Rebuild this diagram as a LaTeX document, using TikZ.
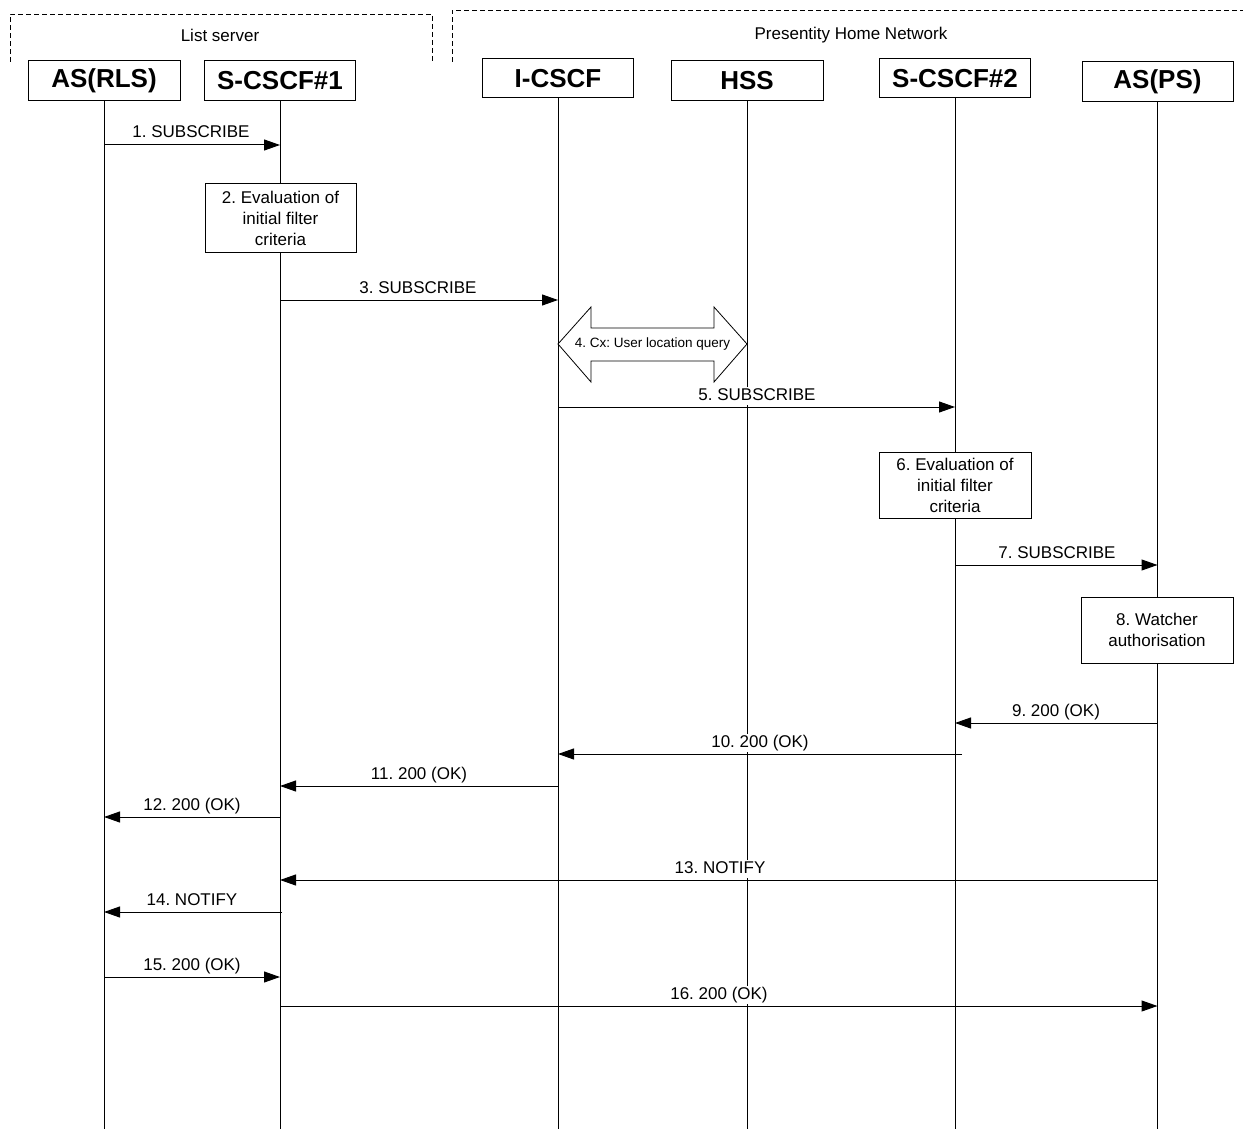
\documentclass[tikz,border=0pt]{standalone}
\usepackage{fontspec}
\setmainfont{Liberation Sans}
\usetikzlibrary{arrows.meta,calc}
\begin{document}
\frenchspacing
\begin{tikzpicture}[x=1pt,y=-1pt,
  every node/.style={font=\fontsize{17}{21}\selectfont, inner sep=0pt},
  hdr/.style={draw, line width=1pt, minimum width=152pt, minimum height=40pt, font=\fontsize{26}{30}\selectfont\bfseries, fill=white},
  proc/.style={draw, line width=1pt, minimum width=152pt, minimum height=67pt, align=center, fill=white},
  lbl/.style={fill=white, inner sep=1pt, anchor=base, text height=12.5pt, text depth=3.5pt},
  msg/.style={line width=1pt, -{Triangle[length=16pt,width=11pt]}},
  life/.style={line width=1pt},
  grp/.style={dash pattern=on 5pt off 3pt, line width=0.8pt},
  cx/.style={draw, line width=0.8pt, fill=white},
]
\useasboundingbox (0,0) rectangle (1243,1129);
% groups
\draw[grp] (10,62) -- (10,14) -- (432,14) -- (432,62);
\draw[grp] (452,62) -- (452,10) -- (1243,10);
\node (lsname) at (220,35) {List server};
\node (phn) at (851,35) {Presentity Home Network};
% headers
\node[hdr] (rls) at (104,81) {AS(RLS)};
\node[hdr, minimum width=151pt] (s1) at (280,81) {S-CSCF\#1};
\node[hdr, minimum width=151pt, minimum height=39pt] (ic) at (558,78.5) {I-CSCF};
\node[hdr] (hss) at (747,81) {HSS};
\node[hdr, minimum width=151pt, minimum height=39pt] (s2) at (955,78.5) {S-CSCF\#2};
\node[hdr, minimum width=151pt] (ps) at (1157.5,82) {AS(PS)};
% lifelines
\coordinate (bot) at (0,1129);
\foreach \n in {rls,s1,ic,hss,s2,ps}{\draw[life] (\n.south) -- (\n.south |- bot);}
% process boxes
\node[proc, minimum width=151pt, minimum height=68pt] (p2) at (280.5,218) {2. Evaluation of\\initial filter\\criteria};
\node[proc, minimum height=66pt] (p6) at (955,485) {6. Evaluation of\\initial filter\\criteria};
\node[proc, minimum height=66pt] (p8) at (1157,630) {8. Watcher\\authorisation};
% Cx double arrow
\coordinate (cxl) at (ic |- 0,344);
\coordinate (cxr) at (hss.south |- 0,344);
\path[cx] (cxl) -- ($(cxl)+(33,-37)$) -- ($(cxl)+(33,-16)$) -- ($(cxr)+(-33,-16)$) -- ($(cxr)+(-33,-37)$) -- (cxr)
  -- ($(cxr)+(-33,38)$) -- ($(cxr)+(-33,17)$) -- ($(cxl)+(33,17)$) -- ($(cxl)+(33,38)$) -- cycle;
\node[font=\fontsize{13.5}{16}\selectfont] (l4) at ($(cxl)!0.5!(cxr)$) {4. Cx: User location query};
% messages
\draw[msg] (rls |- 0,145) -- (s1 |- 0,145);
\draw[msg] (s1 |- 0,300) -- (ic |- 0,300);
\draw[msg] (ic |- 0,407) -- (s2 |- 0,407);
\draw[msg] (s2 |- 0,565) -- (ps |- 0,565);
\draw[msg] (ps |- 0,723) -- (s2 |- 0,723);
\draw[msg] ([xshift=7pt]s2 |- 0,754) -- (ic |- 0,754);
\draw[msg] (ic |- 0,786) -- (s1 |- 0,786);
\draw[msg] (s1 |- 0,817) -- (rls |- 0,817);
\draw[msg] (ps |- 0,880) -- (s1 |- 0,880);
\draw[msg] ([xshift=2pt]s1 |- 0,912) -- (rls |- 0,912);
\draw[msg] (rls |- 0,977) -- (s1 |- 0,977);
\draw[msg] (s1 |- 0,1006) -- (ps |- 0,1006);
% labels
\node[lbl] (l1) at (191,138) {1. SUBSCRIBE};
\node[lbl] (l3) at (418,293) {3. SUBSCRIBE};
\node[lbl] (l5) at (757,400) {5. SUBSCRIBE};
\node[lbl] (l7) at (1057,558) {7. SUBSCRIBE};
\node[lbl] (l9) at (1056,716) {9. 200 (OK)};
\node[lbl] (l10) at (760,747) {10. 200 (OK)};
\node[lbl] (l11) at (419,779) {11. 200 (OK)};
\node[lbl] (l12) at (192,810) {12. 200 (OK)};
\node[lbl] (l13) at (720,873) {13. NOTIFY};
\node[lbl] (l14) at (192,905) {14. NOTIFY};
\node[lbl] (l15) at (192,970) {15. 200 (OK)};
\node[lbl] (l16) at (719,999) {16. 200 (OK)};
\end{tikzpicture}
\end{document}
